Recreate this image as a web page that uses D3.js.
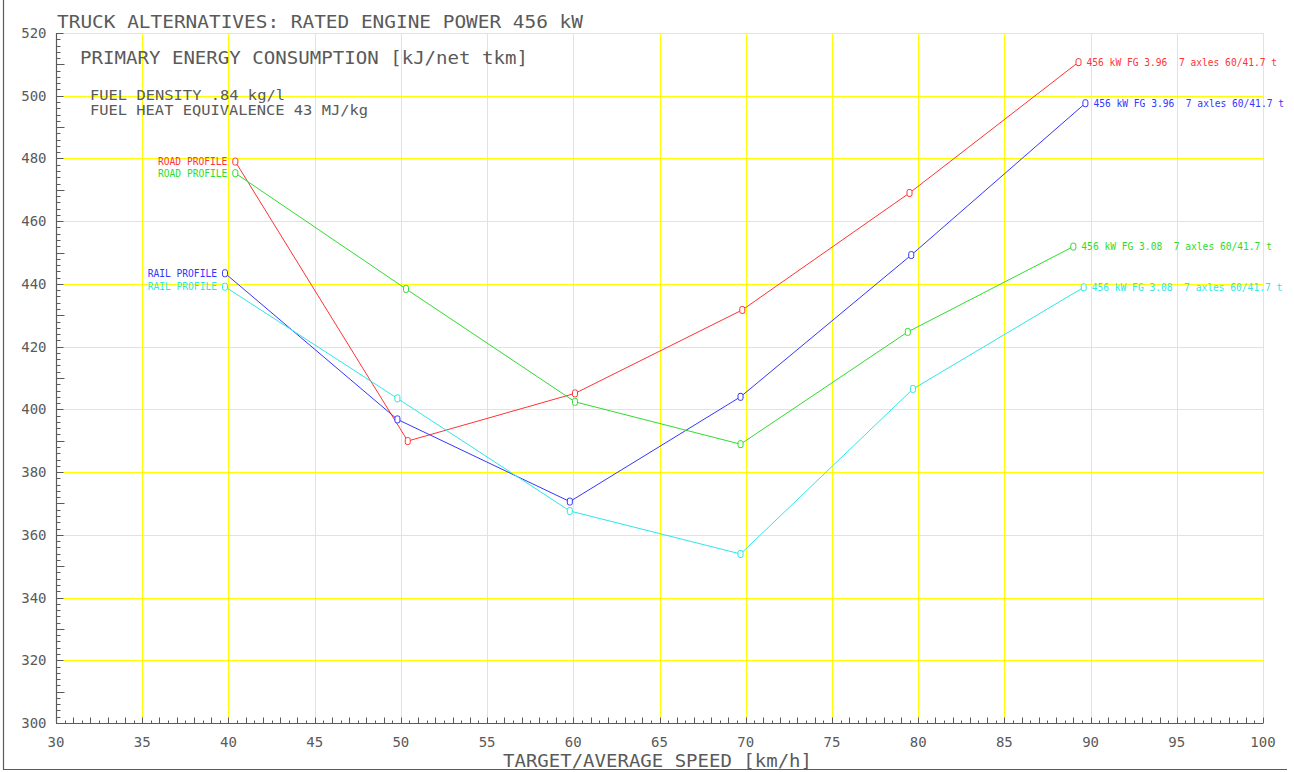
<!DOCTYPE html>
<html>
<head>
<meta charset="utf-8">
<script src="https://cdn.jsdelivr.net/npm/d3@7"></script>
<style>
  html, body { margin: 0; padding: 0; background: #fff; }
  svg { display: block; }
  text { font-family: "DejaVu Sans Mono", "Liberation Mono", monospace; }
</style>
</head>
<body>
<svg id="chart" width="1294" height="772"></svg>
<script>
// Primary energy consumption per net tonne-km vs. target/average speed
const xTicks = [30, 35, 40, 45, 50, 55, 60, 65, 70, 75, 80, 85, 90, 95, 100];
const yTicks = [300, 320, 340, 360, 380, 400, 420, 440, 460, 480, 500, 520];

// 456 kW, final gear 3.96 on the road profile
const roadFG396Speed  = [40.4, 50.4, 60.1, 69.8, 79.5, 89.3];
const roadFG396Energy = [479.0, 389.9, 405.1, 431.7, 469.0, 510.7];
// 456 kW, final gear 3.96 on the rail profile
const railFG396Speed  = [39.8, 49.8, 59.8, 69.7, 79.6, 89.7];
const railFG396Energy = [443.4, 396.8, 370.6, 404.0, 449.2, 497.6];
// 456 kW, final gear 3.08 on the road profile
const roadFG308Speed  = [40.4, 50.3, 60.1, 69.7, 79.4, 89.0];
const roadFG308Energy = [475.3, 438.4, 402.4, 388.9, 424.7, 451.9];
// 456 kW, final gear 3.08 on the rail profile
const railFG308Speed  = [39.8, 49.8, 59.8, 69.7, 79.7, 89.6];
const railFG308Energy = [439.1, 403.5, 367.6, 353.9, 406.5, 438.9];

const startLabels = ["ROAD PROFILE", "RAIL PROFILE", "ROAD PROFILE", "RAIL PROFILE"];
const endLabels = [
  "456 kW FG 3.96  7 axles 60/41.7 t",
  "456 kW FG 3.96  7 axles 60/41.7 t",
  "456 kW FG 3.08  7 axles 60/41.7 t",
  "456 kW FG 3.08  7 axles 60/41.7 t"
];
const seriesColors = ["#ff3333", "#3535ff", "#2edc2e", "#2ee6e6"];

const series = [
  { x: roadFG396Speed, y: roadFG396Energy },
  { x: railFG396Speed, y: railFG396Energy },
  { x: roadFG308Speed, y: roadFG308Energy },
  { x: railFG308Speed, y: railFG308Energy }
].map((s, i) => ({
  points: s.x.map((v, j) => ({ speed: v, energy: s.y[j] })),
  color: seriesColors[i],
  start: startLabels[i],
  end: endLabels[i]
}));

const svg = d3.select("#chart");
const ink = "#5a5a5a";
const gridColor = "#ffff00";

const x = d3.scaleLinear().domain([30, 100]).range([56, 1263]);
const y = d3.scaleLinear().domain([300, 520]).range([723, 33]);

// outer frame (left and bottom edges)
svg.append("line").attr("x1", 3.5).attr("x2", 3.5).attr("y1", 0).attr("y2", 770)
  .attr("stroke", ink).attr("stroke-width", 1.2);
svg.append("line").attr("x1", 3).attr("x2", 1287).attr("y1", 769.5).attr("y2", 769.5)
  .attr("stroke", ink).attr("stroke-width", 1.2);

// grid
const grid = svg.append("g");
grid.selectAll("line.v").data(xTicks.filter(d => d > 30)).join("line")
  .attr("class", "v")
  .attr("x1", d => Math.round(x(d)) + 0.5).attr("x2", d => Math.round(x(d)) + 0.5)
  .attr("y1", y(520)).attr("y2", y(300))
  .attr("stroke", gridColor).attr("stroke-width", 1);
grid.selectAll("line.h").data(yTicks.filter(d => d > 300)).join("line")
  .attr("class", "h")
  .attr("x1", x(30)).attr("x2", x(100))
  .attr("y1", d => Math.round(y(d)) + 0.5).attr("y2", d => Math.round(y(d)) + 0.5)
  .attr("stroke", gridColor).attr("stroke-width", 1);

// y axis with minor ticks every 2, medium every 10
const yAxis = svg.append("g").attr("transform", `translate(${Math.round(x(30)) + 0.5},0)`);
yAxis.append("line").attr("y1", y(520)).attr("y2", y(300)).attr("stroke", ink).attr("stroke-width", 1.2);
yAxis.selectAll("line.t").data(d3.range(300, 521, 2)).join("line")
  .attr("class", "t")
  .attr("x1", 0).attr("x2", d => d % 20 === 0 ? 7 : (d % 10 === 0 ? 8 : 4))
  .attr("y1", d => Math.round(y(d)) + 0.5).attr("y2", d => Math.round(y(d)) + 0.5)
  .attr("stroke", ink).attr("stroke-width", 1);
yAxis.selectAll("text").data(yTicks).join("text")
  .attr("x", -10).attr("y", d => y(d) + 5)
  .attr("text-anchor", "end").attr("font-size", 14).attr("fill", ink)
  .text(d => d);

// x axis with ticks every 0.5
const xAxis = svg.append("g").attr("transform", `translate(0,${Math.round(y(300)) + 0.5})`);
xAxis.append("line").attr("x1", x(30)).attr("x2", x(100)).attr("stroke", ink).attr("stroke-width", 1.2);
xAxis.selectAll("line.t").data(d3.range(30, 100.01, 0.5)).join("line")
  .attr("class", "t")
  .attr("x1", d => Math.round(x(d)) + 0.5).attr("x2", d => Math.round(x(d)) + 0.5)
  .attr("y1", 0).attr("y2", d => Number.isInteger(d) ? -6 : -3)
  .attr("stroke", ink).attr("stroke-width", 1);
xAxis.selectAll("text").data(xTicks).join("text")
  .attr("x", d => x(d)).attr("y", 23)
  .attr("text-anchor", "middle").attr("font-size", 14).attr("fill", ink)
  .text(d => d);

// titles and notes
function note(txt, px, py, size, len) {
  svg.append("text").attr("x", px).attr("y", py)
    .attr("font-size", size).attr("fill", ink)
    .attr("textLength", len).attr("lengthAdjust", "spacingAndGlyphs")
    .text(txt);
}
note("TRUCK ALTERNATIVES: RATED ENGINE POWER 456 kW", 57, 28, 18, 526);
note("PRIMARY ENERGY CONSUMPTION [kJ/net tkm]", 80, 64, 18, 448);
note("FUEL DENSITY .84 kg/l", 90, 100, 14, 195);
note("FUEL HEAT EQUIVALENCE 43 MJ/kg", 90, 115, 14, 278);
note("TARGET/AVERAGE SPEED [km/h]", 503, 767, 18, 309);

// series lines, markers and labels
const line = d3.line().x(d => x(d.speed)).y(d => y(d.energy));
const plot = svg.append("g");
series.forEach(s => {
  plot.append("path").datum(s.points)
    .attr("d", line).attr("fill", "none")
    .attr("stroke", s.color).attr("stroke-width", 1);
  plot.selectAll(null).data(s.points).join("rect")
    .attr("x", d => x(d.speed) - 2.5).attr("y", d => y(d.energy) - 3.5)
    .attr("width", 5).attr("height", 7).attr("rx", 2)
    .attr("fill", "#fff").attr("stroke", s.color).attr("stroke-width", 1);
  const first = s.points[0], last = s.points[s.points.length - 1];
  plot.append("text")
    .attr("x", x(first.speed) - 8).attr("y", y(first.energy) + 3.5)
    .attr("text-anchor", "end").attr("font-size", 9.6).attr("fill", s.color)
    .text(s.start);
  plot.append("text")
    .attr("x", x(last.speed) + 8).attr("y", y(last.energy) + 3.5)
    .attr("font-size", 9.6).attr("fill", s.color)
    .attr("xml:space", "preserve").style("white-space", "pre")
    .text(s.end);
});
</script>
</body>
</html>
